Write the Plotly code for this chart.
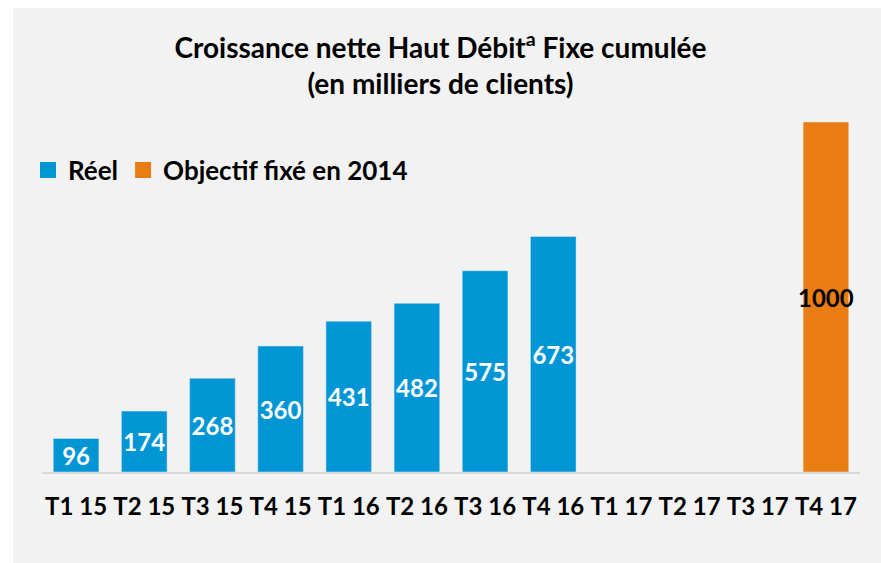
import plotly.graph_objects as go

categories = ["T1 15", "T2 15", "T3 15", "T4 15", "T1 16", "T2 16", "T3 16", "T4 16",
              "T1 17", "T2 17", "T3 17", "T4 17"]
reel = [96, 174, 268, 360, 431, 482, 575, 673, None, None, None, None]
objectif = [None, None, None, None, None, None, None, None, None, None, None, 1000]
series_names = ["Réel", "Objectif fixé en 2014"]
title_text = "Croissance nette Haut Débit<sup>a</sup> Fixe cumulée<br>(en milliers de clients)"

BLUE = "#0096D6"
ORANGE = "#E97C12"
FONT = "Lato"

W, H = 881, 563
L, R, T, B = 42, 860, 122, 471.7
pw, ph = R - L, B - T

fig = go.Figure()
fig.add_trace(go.Bar(x=categories, y=reel, name=series_names[0], marker_color=BLUE,
                     text=reel, texttemplate="%{y}", textposition="inside", textangle=0,
                     insidetextanchor="middle", constraintext="none",
                     textfont=dict(color="white", size=24, family=FONT, weight="bold"),
                     showlegend=False, cliponaxis=False))
fig.add_trace(go.Bar(x=categories, y=objectif, name=series_names[1], marker_color=ORANGE,
                     text=objectif, texttemplate="%{y}", textposition="inside", textangle=0,
                     insidetextanchor="middle", constraintext="none",
                     textfont=dict(color="black", size=24, family=FONT, weight="bold"),
                     showlegend=False, cliponaxis=False))
# legend entries
for name, col in zip(series_names, [BLUE, ORANGE]):
    fig.add_trace(go.Scatter(x=[None], y=[None], mode="markers", name=name,
                             marker=dict(symbol="square", size=16, color=col)))

fig.add_shape(type="rect", xref="paper", yref="paper", layer="below",
              x0=(13 - L) / pw, x1=(W + 5 - L) / pw,
              y0=(B - H - 5) / ph, y1=(B - 8) / ph,
              fillcolor="#F2F2F2", line_width=0)

fig.update_layout(
    width=W, height=H,
    margin=dict(l=L, r=W - R, t=T, b=H - B),
    paper_bgcolor="white", plot_bgcolor="rgba(0,0,0,0)",
    barmode="overlay", bargap=0.33,
    font=dict(family=FONT, color="black", weight="bold"),
    title=dict(text=title_text, xref="container", x=0.5, xanchor="center",
               yref="container", y=1 - 58 / H, yanchor="middle",
               font=dict(size=28, family=FONT, weight="bold", color="black")),
    legend=dict(orientation="h", x=(28 - L) / pw, xanchor="left",
                y=(B - 170) / ph, yanchor="middle",
                font=dict(size=26, family=FONT, weight="bold", color="black"),
                bgcolor="rgba(0,0,0,0)", itemwidth=30),
    xaxis=dict(showline=True, linecolor="#D9D9D9", linewidth=2, showgrid=False,
               ticks="", tickfont=dict(size=24, family=FONT, weight="bold", color="black"),
               ticklabelstandoff=12, fixedrange=True),
    yaxis=dict(range=[0, 1000], visible=False, fixedrange=True),
)

fig.write_html("out.html", config={"displayModeBar": False},
               post_script="document.body.style.margin='0';")
